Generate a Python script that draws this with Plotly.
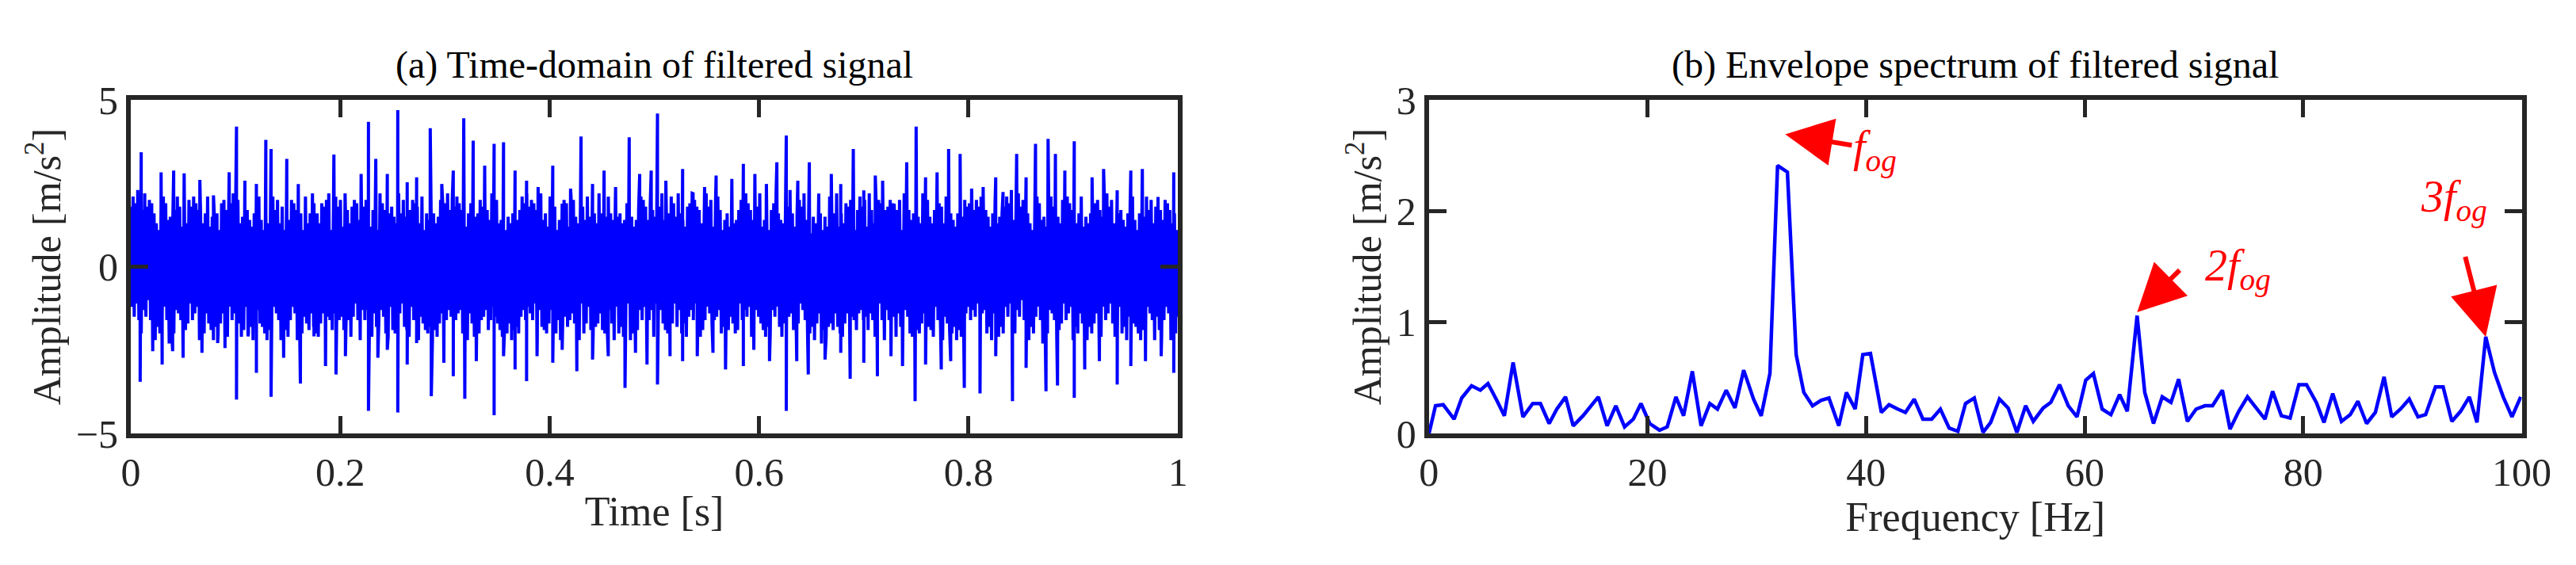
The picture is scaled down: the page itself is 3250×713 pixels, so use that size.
import numpy as np
import plotly.graph_objects as go

# ---- Spectrum data (b) ----
FREQ = [0,0.6,1.3,2.3,3.0,3.9,4.7,5.4,6.2,6.9,7.7,8.6,9.5,10.2,11.0,11.7,12.5,13.2,14.1,14.7,15.5,16.3,17.1,17.9,18.7,19.4,20.2,21.1,21.8,22.6,23.3,24.1,24.9,25.7,26.4,27.2,28.0,28.8,29.7,30.4,31.2,31.9,32.8,33.6,34.3,35.1,35.9,36.6,37.5,38.2,39.0,39.7,40.4,41.4,42.1,42.9,43.6,44.4,45.2,46.0,46.8,47.6,48.4,49.1,49.9,50.7,51.4,52.2,53.0,53.8,54.6,55.3,56.2,56.9,57.7,58.5,59.3,60.1,60.8,61.6,62.4,63.2,63.9,64.8,65.5,66.3,67.1,67.9,68.6,69.4,70.2,71.0,71.7,72.6,73.3,74.1,74.9,75.7,76.5,77.2,78.0,78.8,79.6,80.3,81.2,81.9,82.7,83.5,84.3,85.0,85.8,86.6,87.4,88.1,88.9,89.7,90.5,91.2,92.1,92.8,93.6,94.4,95.2,95.9,96.7,97.5,98.3,99.1,99.9]
SPEC = [0,0.25,0.26,0.13,0.32,0.43,0.39,0.45,0.30,0.16,0.64,0.15,0.27,0.27,0.09,0.22,0.33,0.07,0.16,0.23,0.33,0.07,0.25,0.06,0.13,0.27,0.09,0.03,0.06,0.33,0.16,0.56,0.07,0.27,0.22,0.39,0.23,0.57,0.31,0.16,0.54,2.41,2.35,0.71,0.37,0.25,0.30,0.32,0.07,0.37,0.22,0.71,0.72,0.19,0.26,0.22,0.19,0.31,0.13,0.13,0.22,0.05,0.02,0.27,0.32,0.01,0.10,0.31,0.23,0.01,0.25,0.11,0.23,0.28,0.44,0.25,0.15,0.48,0.54,0.22,0.17,0.35,0.20,1.06,0.37,0.09,0.33,0.28,0.49,0.11,0.22,0.25,0.25,0.39,0.04,0.20,0.33,0.23,0.13,0.38,0.16,0.14,0.44,0.44,0.28,0.10,0.36,0.11,0.17,0.29,0.09,0.19,0.51,0.15,0.22,0.31,0.15,0.17,0.42,0.42,0.11,0.20,0.33,0.10,0.87,0.55,0.33,0.15,0.33]

# ---- Time-domain data (a): spike peaks ----
UP_T = [.010,.029,.041,.051,.066,.079,.094,.101,.109,.120,.129,.134,.149,.160,.175,.194,.205,.220,.227,.234,.245,.255,.264,.273,.286,.297,.308,.318,.327,.338,.347,.356,.367,.378,.389,.403,.412,.420,.430,.441,.452,.463,.476,.486,.497,.503,.511,.527,.537,.548,.559,.574,.585,.596,.607,.617,.626,.637,.648,.657,.669,.678,.690,.700,.711,.718,.729,.741,.750,.759,.770,.781,.792,.803,.814,.826,.833,.846,.855,.864,.876,.883,.892,.901,.918,.929,.942,.955,.966,.981,.996]
UP_V = [3.43,2.83,2.88,2.8,2.6,2.14,2.83,4.2,2.58,2.48,3.8,3.53,3.23,2.48,1.9,3.36,1.7,2.78,4.34,3.23,2.78,4.69,2.53,2.68,4.15,2.48,2.88,4.45,3.78,3.03,3.68,3.73,2.88,2.58,2.39,3.03,1.89,2.34,3.9,2.48,2.88,2.39,3.88,2.78,2.88,4.59,2.58,2.93,2.19,2.39,2.73,2.63,3.08,2.78,2.48,3.13,3.93,2.58,3.13,2.19,2.78,2.48,3.53,2.29,2.73,2.58,1.89,3.13,4.2,2.68,2.83,3.53,3.38,2.34,2.39,2.68,2.24,3.38,2.68,3.68,3.83,3.38,2.88,3.76,2.68,2.93,2.29,2.88,2.93,2.09,2.83]
LO_T = [.009,.021,.030,.040,.050,.068,.083,.090,.101,.112,.120,.134,.146,.162,.175,.186,.196,.205,.227,.236,.245,.255,.264,.273,.287,.299,.308,.319,.330,.347,.356,.367,.378,.388,.403,.412,.426,.441,.456,.472,.482,.493,.503,.515,.527,.541,.556,.568,.585,.595,.610,.626,.636,.647,.663,.678,.687,.700,.713,.726,.737,.749,.759,.774,.783,.796,.811,.826,.842,.855,.874,.885,.901,.911,.925,.942,.955,.969,.984,.996]
LO_V = [-3.45,-2.53,-2.93,-2.53,-2.73,-2.58,-2.29,-2.44,-3.98,-2.09,-3.18,-3.9,-2.73,-3.5,-2.09,-2.98,-3.23,-2.68,-4.32,-2.73,-2.49,-4.37,-2.93,-2.29,-3.88,-2.88,-3.28,-3.96,-2.83,-4.45,-2.68,-3.08,-3.43,-2.68,-2.88,-2.49,-3.13,-2.78,-2.68,-3.63,-2.58,-2.93,-3.53,-2.68,-2.83,-2.68,-2.58,-3.08,-2.98,-2.49,-2.83,-4.32,-2.83,-3.23,-2.78,-2.58,-3.36,-2.88,-3.28,-2.68,-2.98,-4.03,-2.93,-3.08,-2.83,-3.63,-3.8,-2.68,-4.03,-3.03,-3.73,-3.56,-3.93,-3.08,-2.83,-3.53,-2.98,-2.83,-2.68,-3.18]
# dense core oscillation magnitudes (alternating sign), estimated
CORE_MAG = [
1.8,1.2,2.1,1.5,1.9,1.1,2.3,1.6,1.4,2.0,1.7,1.3,2.2,1.5,1.8,1.0,2.0,1.6,1.9,1.4,
1.6,2.2,1.3,1.8,1.1,2.0,1.7,1.5,2.1,1.2,1.9,1.6,1.4,2.3,1.5,1.8,1.2,2.0,1.7,1.3,
2.1,1.4,1.8,1.6,1.2,2.2,1.5,1.9,1.3,1.7,2.0,1.1,1.8,1.6,2.1,1.4,1.9,1.2,1.7,2.2,
1.5,1.8,1.3,2.0,1.6,1.4,2.1,1.7,1.2,1.9,1.5,2.2,1.3,1.8,1.6,2.0,1.1,1.7,1.9,1.4,
2.0,1.3,1.7,2.1,1.5,1.2,1.9,1.6,2.2,1.4,1.8,1.1,2.0,1.7,1.3,2.1,1.5,1.9,1.6,1.2,
1.7,2.0,1.4,1.8,1.2,2.2,1.6,1.5,1.9,1.3,2.1,1.7,1.4,1.8,1.1,2.0,1.6,2.2,1.3,1.9,
1.5,1.8,2.1,1.2,1.7,1.4,2.0,1.6,1.3,2.2,1.8,1.5,1.1,1.9,1.7,2.1,1.4,1.6,2.0,1.2,
1.9,1.4,1.7,2.2,1.3,1.8,1.6,2.0,1.1,1.5,2.1,1.7,1.3,1.9,1.6,1.4,2.2,1.8,1.2,2.0,
1.6,2.1,1.3,1.7,1.9,1.4,1.8,1.2,2.0,1.5,2.2,1.6,1.1,1.9,1.7,1.4,2.1,1.3,1.8,1.6,
2.0,1.5,1.2,1.9,2.2,1.4,1.7,1.6,1.3,2.1,1.8,1.5,2.0,1.1,1.9,1.6,1.4,2.2,1.7,1.3,
1.8,1.6,2.0,1.3,1.9,1.5,1.2,2.1,1.7,1.4,2.0,1.8,1.1,1.6,2.2,1.3,1.9,1.5,1.7,2.0,
1.4,2.1,1.6,1.2,1.8,1.9,1.5,2.0,1.3,1.7,2.2,1.4,1.6,1.1,2.0,1.8,1.5,1.9,1.3,2.1,
1.7,1.2,2.0,1.6,1.9,1.4,1.8,2.2,1.3,1.5,2.1,1.7,1.1,1.9,1.6,2.0,1.4,1.8,1.2,2.2,
1.6,1.9,1.3,2.1,1.5,1.7,2.0,1.4,1.8,1.2,1.9,1.6,2.2,1.3,1.7,1.5,2.0,1.1,1.8,1.6,
2.1,1.4,1.9,1.3,1.7,2.0,1.5,1.8,1.2,2.2,1.6,1.4,1.9,1.7,1.3,2.1,1.5,1.8,1.6,2.0]

mag = np.concatenate([CORE_MAG, CORE_MAG[::-1], CORE_MAG[150:] + CORE_MAG[:150]])
core_t = np.linspace(0, 1, len(mag))
core_v = mag * np.where(np.arange(len(mag)) % 2 == 0, 1, -1)
all_t = np.concatenate([core_t, UP_T, LO_T])
all_v = np.concatenate([core_v, UP_V, LO_V])
order = np.argsort(all_t, kind="stable")
t_sig, v_sig = all_t[order], all_v[order]

BLUE = "#0000ff"
RED = "#ff0000"
SERIF = "Liberation Serif"
DARK = "#262626"

fig = go.Figure()
fig.add_trace(go.Scatter(x=t_sig, y=v_sig, mode="lines", line=dict(color=BLUE, width=4),
                         xaxis="x", yaxis="y", showlegend=False))
fig.add_trace(go.Scatter(x=FREQ, y=SPEC, mode="lines", line=dict(color=BLUE, width=4.5),
                         xaxis="x2", yaxis="y2", showlegend=False))

axcommon = dict(showline=True, linecolor=DARK, linewidth=6, mirror="ticks",
                ticks="inside", ticklen=22, tickwidth=5, tickcolor=DARK,
                showgrid=False, zeroline=False,
                tickfont=dict(family=SERIF, size=50, color=DARK))
ytitle = dict(text="Amplitude [m/s<sup>2</sup>]",
              font=dict(family=SERIF, size=50, color=DARK))
xfont = dict(family=SERIF, size=52, color=DARK)

fig.update_layout(
    width=3250, height=713, paper_bgcolor="white", plot_bgcolor="white",
    margin=dict(l=0, r=0, t=0, b=0),
    xaxis=dict(domain=[0.045, 0.458], range=[0, 1], tickvals=[0,0.2,0.4,0.6,0.8,1],
               ticktext=["0","0.2","0.4","0.6","0.8","1"], anchor="y",
               title=dict(text="Time [s]", font=xfont, standoff=5), **axcommon),
    yaxis=dict(domain=[0.222, 0.863], range=[-5, 5], tickvals=[-5,0,5], anchor="x",
               title=dict(ytitle, standoff=5), **axcommon),
    xaxis2=dict(domain=[0.557, 0.988], range=[0, 100], tickvals=[0,20,40,60,80,100], anchor="y2",
                title=dict(text="Frequency [Hz]", font=xfont, standoff=5), **axcommon),
    yaxis2=dict(domain=[0.222, 0.863], range=[0, 3], tickvals=[0,1,2,3], anchor="x2",
                title=dict(ytitle, standoff=5), **axcommon),
)

ann = []
tfont = dict(family=SERIF, size=48, color="black")
ann.append(dict(text="(a) Time-domain of filtered signal", x=0.2515, y=0.93, xref="paper", yref="paper",
                xanchor="center", showarrow=False, font=tfont, yanchor="middle"))
ann.append(dict(text="(b) Envelope spectrum of filtered signal", x=0.7725, y=0.93, xref="paper", yref="paper",
                xanchor="center", showarrow=False, font=tfont, yanchor="middle"))
arrows = [(32.6, 2.69, 38.8, 2.59), (64.8, 1.09, 68.8, 1.48), (96.7, 0.87, 94.8, 1.6)]
for tx, ty, sx, sy in arrows:
    ann.append(dict(x=tx, y=ty, ax=sx, ay=sy, xref="x2", yref="y2", axref="x2", ayref="y2",
                    text="", showarrow=True, arrowhead=2, arrowsize=2, arrowwidth=6, arrowcolor=RED))
labels = [(40.8, 2.55, "<i>f</i><sub><i>og</i></sub>"), (74.0, 1.48, "<i>2f</i><sub><i>og</i></sub>"),
          (93.8, 2.1, "<i>3f</i><sub><i>og</i></sub>")]
for lx, ly, txt in labels:
    ann.append(dict(x=lx, y=ly, xref="x2", yref="y2", text=txt, showarrow=False,
                    font=dict(family=SERIF, size=56, color=RED)))
fig.update_layout(annotations=ann)
fig.write_html("out.html")
